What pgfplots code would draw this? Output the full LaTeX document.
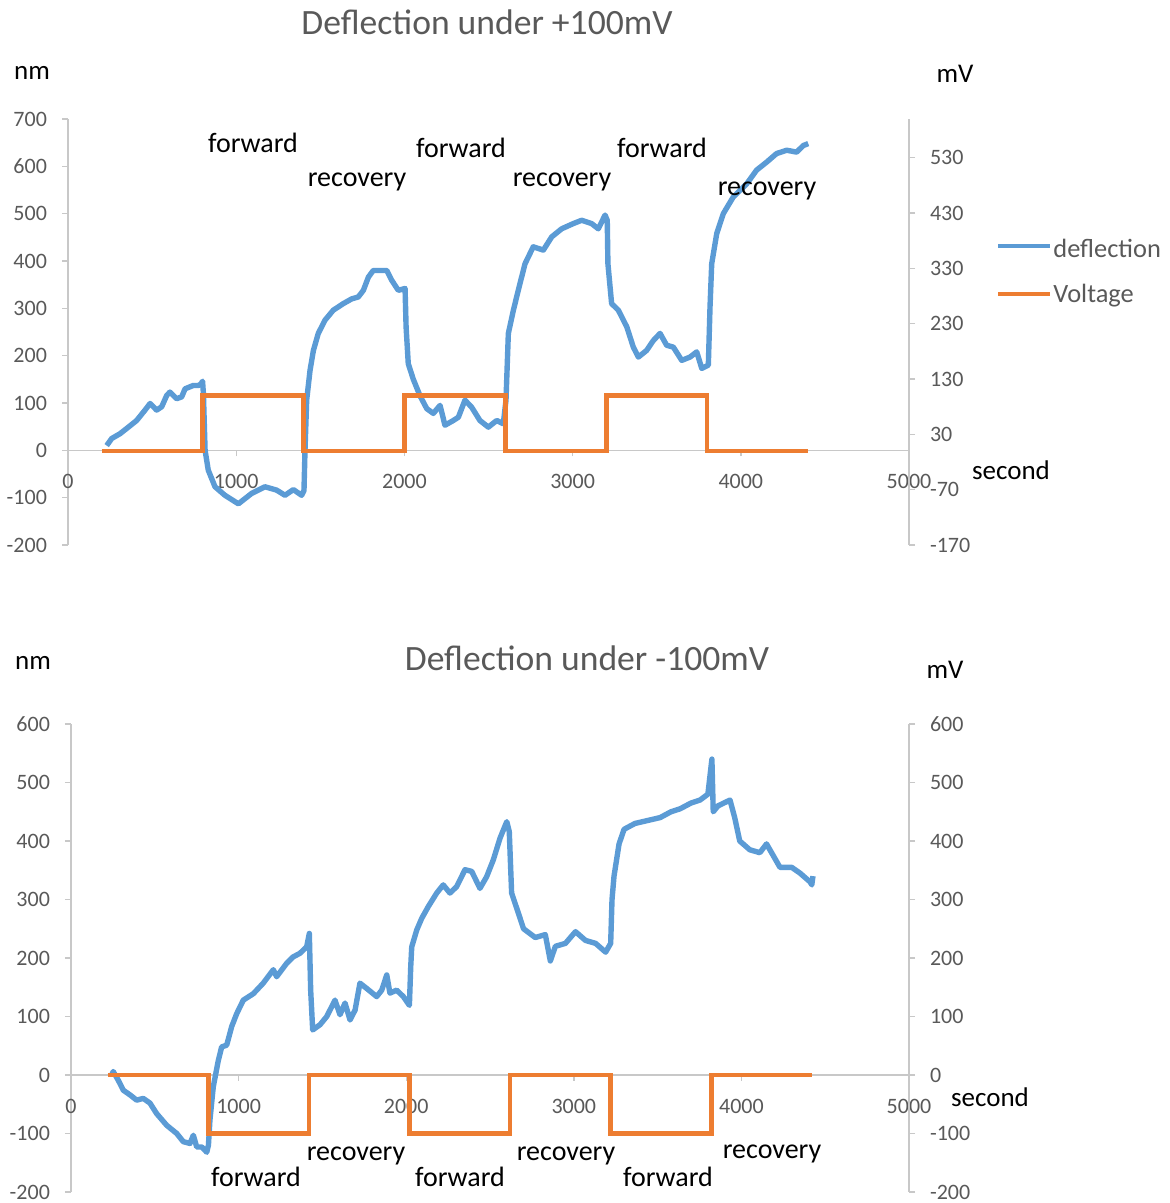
\documentclass[border=0pt]{standalone}
\usepackage{pgfplots}
\pgfplotsset{compat=1.18}
\usepackage{fontspec}
\setmainfont{Carlito}
\definecolor{defl}{HTML}{5B9BD5}
\definecolor{volt}{HTML}{ED7D31}
\definecolor{tgray}{HTML}{595959}
\definecolor{agray}{HTML}{C8C8C8}
\pgfplotsset{
  base/.style={scale only axis, xmin=0, xmax=5000,
    axis line style={draw=agray, line width=0.7pt},
    tick style={draw=agray, line width=0.7pt},
    major tick length=3pt, tick align=outside,
    ticklabel style={font=\fontsize{11}{13}\selectfont, text=tgray},
    clip=false},
  leftax/.style={base, axis y line*=left, axis x line*=middle,
    xtick={0,1000,2000,3000,4000,5000},
    xticklabels={0,1000,2000,3000,4000,5000},
    hide obscured x ticks=false,
    xticklabel style={yshift=-5.5pt},
    yticklabel style={xshift=-4pt}},
  rightax/.style={base, axis y line*=right, axis x line=none,
    yticklabel style={xshift=4pt}},
}
\pgfplotstableread{
t nm
230 10
260 25
309 35
359 49
408 63
458 85
488 99
527 85
557 92
587 116
606 123
646 109
676 113
696 130
745 137
775 137
790 140
800 146
805 120
815 0
834 -42
874 -77
933 -95
1013 -113
1092 -91
1171 -77
1240 -84
1290 -95
1340 -83
1389 -95
1403 -85
1409 0
1419 106
1439 169
1459 211
1488 247
1528 275
1577 296
1637 310
1687 320
1726 324
1756 338
1786 366
1815 380
1895 380
1925 359
1964 338
2004 342
2010 261
2023 183
2053 150
2093 115
2133 88
2172 78
2212 95
2241 53
2291 63
2321 70
2360 106
2400 91
2449 63
2499 49
2549 63
2588 56
2604 106
2618 247
2648 296
2677 338
2717 394
2766 430
2826 423
2876 451
2935 468
3004 479
3054 486
3113 479
3153 468
3193 497
3206 486
3210 394
3232 310
3272 296
3322 261
3361 218
3391 197
3440 211
3480 232
3520 247
3559 222
3599 218
3649 190
3698 197
3738 208
3768 173
3807 180
3817 303
3827 394
3857 458
3896 500
3955 535
4035 563
4094 592
4154 609
4213 627
4273 634
4332 630
4372 644
4401 648
}\deftop
\pgfplotstableread{
t mv
200 0
800 0
800 100
1400 100
1400 0
2000 0
2000 100
2600 100
2600 0
3200 0
3200 100
3800 100
3800 0
4400 0
}\volttop
\pgfplotstableread{
t nm
243 0
252 6
282 -9
312 -26
352 -34
392 -43
431 -40
471 -48
511 -66
571 -86
631 -100
670 -114
710 -117
730 -103
750 -123
780 -123
810 -132
820 -120
829 -77
849 -20
879 25
899 48
929 51
959 83
989 105
1028 128
1088 139
1147 157
1207 180
1227 168
1287 191
1326 202
1366 208
1406 219
1422 242
1430 145
1442 77
1486 86
1526 100
1575 128
1605 103
1635 123
1665 94
1695 111
1724 157
1764 148
1824 134
1854 145
1884 171
1903 140
1943 145
1983 134
2019 119
2027 185
2033 219
2063 248
2093 268
2132 288
2182 311
2221 325
2261 311
2301 322
2351 351
2391 348
2440 319
2480 339
2520 368
2560 405
2600 433
2615 416
2629 311
2669 277
2700 250
2770 235
2830 240
2860 195
2890 220
2950 225
3010 245
3070 230
3130 225
3190 210
3220 225
3228 300
3240 340
3270 395
3300 420
3365 430
3440 435
3515 440
3580 450
3634 455
3700 465
3753 470
3800 480
3824 540
3832 450
3860 460
3932 470
3960 440
3990 400
4050 385
4110 380
4150 395
4230 355
4300 355
4350 345
4410 330
4420 325
4427 340
}\defbot
\pgfplotstableread{
t mv
220 0
820 0
820 -100
1420 -100
1420 0
2020 0
2020 -100
2620 -100
2620 0
3220 0
3220 -100
3820 -100
3820 0
4420 0
}\voltbot
\begin{document}
\begin{tikzpicture}[x=0.5pt,y=0.5pt]
\path[use as bounding box] (0,0) rectangle (1170,1203);
% ---------- top panel ----------
\begin{axis}[leftax, at={(34pt,329pt)}, anchor=south west, width=420.5pt, height=213pt,
  ymin=-200, ymax=700, ytick={-200,-100,0,100,200,300,400,500,600,700},
  yticklabels={-200,-100,0,100,200,300,400,500,600,700}]
\addplot[defl, line width=2.7pt, line join=round] table[x=t,y=nm] {\deftop};
\end{axis}
\begin{axis}[rightax, at={(34pt,329pt)}, anchor=south west, width=420.5pt, height=213pt,
  ymin=-170, ymax=600, ytick={-170,-70,30,130,230,330,430,530},
  yticklabels={-170,-70,30,130,230,330,430,530}]
\addplot[volt, line width=2.3pt] table[x=t,y=mv] {\volttop};
\end{axis}
% ---------- bottom panel ----------
\begin{axis}[leftax, at={(35.5pt,5.5pt)}, anchor=south west, width=419pt, height=234pt,
  ymin=-200, ymax=600, ytick={-200,-100,0,100,200,300,400,500,600},
  yticklabels={-200,-100,0,100,200,300,400,500,600}]
\addplot[defl, line width=2.7pt, line join=round] table[x=t,y=nm] {\defbot};
\end{axis}
\begin{axis}[rightax, at={(35.5pt,5.5pt)}, anchor=south west, width=419pt, height=234pt,
  ymin=-200, ymax=600, ytick={-200,-100,0,100,200,300,400,500,600},
  yticklabels={-200,-100,0,100,200,300,400,500,600}]
\addplot[volt, line width=2.3pt] table[x=t,y=mv] {\voltbot};
\end{axis}
% ---------- texts ----------
\begin{scope}[every node/.style={inner sep=0pt}]
\node[text=tgray, font=\fontsize{17.8}{20}\selectfont] at (487,1181) {Deflection under +100mV};
\node[font=\fontsize{13.5}{16}\selectfont] at (32,1130) {nm};
\node[font=\fontsize{13.5}{16}\selectfont] at (955,1129) {mV};
\node[font=\fontsize{13.5}{16}\selectfont] at (1011,733) {second};
\draw[defl, line width=2.3pt] (998,957) -- (1050,957);
\draw[volt, line width=2.3pt] (998,909) -- (1050,909);
\node[anchor=west, text=tgray, font=\fontsize{13.2}{16}\selectfont] at (1053,955) {deflection};
\node[anchor=west, text=tgray, font=\fontsize{13.2}{16}\selectfont] at (1053,907) {Voltage};
\begin{scope}[every node/.append style={font=\fontsize{14}{17}\selectfont}]
\node at (253,1060) {forward};
\node at (357,1021) {recovery};
\node at (461,1055) {forward};
\node at (562,1021) {recovery};
\node at (662,1055) {forward};
\node at (767,1012) {recovery};
\end{scope}
\node[text=tgray, font=\fontsize{17.8}{20}\selectfont] at (587,545) {Deflection under -100mV};
\node[font=\fontsize{13.5}{16}\selectfont] at (33,540) {nm};
\node[font=\fontsize{13.5}{16}\selectfont] at (945,533) {mV};
\node[font=\fontsize{13.5}{16}\selectfont] at (990,106) {second};
\begin{scope}[every node/.append style={font=\fontsize{14}{17}\selectfont}]
\node at (256,26) {forward};
\node at (356,47) {recovery};
\node at (460,26) {forward};
\node at (566,47) {recovery};
\node at (668,26) {forward};
\node at (772,49) {recovery};
\end{scope}
\end{scope}
\end{tikzpicture}
\end{document}
